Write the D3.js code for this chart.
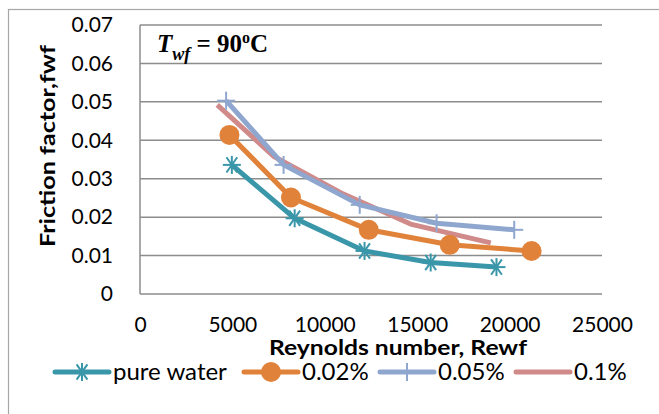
<!DOCTYPE html>
<html>
<head>
<meta charset="utf-8">
<script src="https://cdn.jsdelivr.net/npm/d3@7"></script>
<style>
  body { margin: 0; background: #fff; overflow: hidden; }
  svg { display: block; }
  text { font-family: Lato, "Open Sans", sans-serif; fill: #000; }
</style>
</head>
<body>
<div id="container"></div>
<script>

var width = 659, height = 414;

var margin = {top: 25, right: 57, bottom: 120, left: 140};

// data (Reynolds number vs friction factor)
var seriesNames = ["pure water", "0.02%", "0.05%", "0.1%"];

var reWater = [4970, 8370, 12150, 15730, 19290];
var fWater  = [0.0336, 0.0197, 0.0112, 0.0082, 0.0070];

var re002 = [4840, 8170, 12380, 16760, 21190];
var f002  = [0.0414, 0.0251, 0.0167, 0.0128, 0.0112];

var re005 = [4660, 7770, 11890, 16050, 20250];
var f005  = [0.0503, 0.0336, 0.0232, 0.0184, 0.0167];

var re01 = [4180, 7270, 11010, 14640, 18980];
var f01  = [0.0492, 0.0357, 0.0260, 0.0182, 0.0133];

var xTicks = [0, 5000, 10000, 15000, 20000, 25000];
var yTicks = [0, 0.01, 0.02, 0.03, 0.04, 0.05, 0.06, 0.07];

var colors = ["#3a96a9", "#e0823a", "#8fa7cf", "#d08a8a"];
var markers = ["star", "circle", "plus", "none"];

var series = [
    {name: seriesNames[0], x: reWater, y: fWater},
    {name: seriesNames[1], x: re002, y: f002},
    {name: seriesNames[2], x: re005, y: f005},
    {name: seriesNames[3], x: re01, y: f01}
];

var plotW = width - margin.left - margin.right;
var plotH = height - margin.top - margin.bottom;

var x = d3.scaleLinear().domain([0, 25000]).range([0, plotW]);
var y = d3.scaleLinear().domain([0, 0.07]).range([plotH, 0]);

var svg = d3.select("#container")
    .append("svg")
    .attr("width", width)
    .attr("height", height);

// chart frame (only top and left edges fall inside the picture)
svg.append("rect")
    .attr("x", 8.5)
    .attr("y", 9.5)
    .attr("width", 700)
    .attr("height", 450)
    .attr("fill", "none")
    .attr("stroke", "#a6a6a6")
    .attr("stroke-width", 1.2);

var g = svg.append("g")
    .attr("transform", "translate(" + margin.left + "," + margin.top + ")");

// gridlines
g.selectAll(".grid")
    .data(yTicks)
    .enter()
    .append("line")
    .attr("class", "grid")
    .attr("x1", 0)
    .attr("x2", plotW)
    .attr("y1", function(d) { return y(d); })
    .attr("y2", function(d) { return y(d); })
    .attr("stroke", "#8c8c8c")
    .attr("stroke-width", 1.5);

// left axis line
g.append("line")
    .attr("x1", 0).attr("x2", 0)
    .attr("y1", 0).attr("y2", plotH)
    .attr("stroke", "#8c8c8c")
    .attr("stroke-width", 1.5);

// y axis
g.append("g")
    .attr("class", "axis-left")
    .call(d3.axisLeft(y).tickValues(yTicks).tickSize(0).tickPadding(27)
        .tickFormat(function(d) { return d === 0 ? "0" : d3.format(".2f")(d); }))
    .call(function(a) { a.select(".domain").remove(); })
    .selectAll("text")
    .style("font-size", "21px")
    .style("font-family", "Lato, sans-serif");

// x axis
g.append("g")
    .attr("class", "axis-bottom")
    .attr("transform", "translate(0," + plotH + ")")
    .call(d3.axisBottom(x).tickValues(xTicks).tickSize(0).tickPadding(23)
        .tickFormat(d3.format("d")))
    .call(function(a) { a.select(".domain").remove(); })
    .selectAll("text")
    .style("font-size", "21px")
    .style("font-family", "Lato, sans-serif");

// axis titles
svg.append("text")
    .attr("x", 398)
    .attr("y", 355)
    .attr("text-anchor", "middle")
    .attr("textLength", 258)
    .attr("lengthAdjust", "spacingAndGlyphs")
    .style("font-size", "21px")
    .style("font-weight", "bold")
    .text("Reynolds number, Rewf");

svg.append("text")
    .attr("transform", "translate(55,146) rotate(-90)")
    .attr("text-anchor", "middle")
    .attr("textLength", 202)
    .attr("lengthAdjust", "spacingAndGlyphs")
    .style("font-size", "21px")
    .style("font-weight", "bold")
    .text("Friction factor,fwf");

// annotation
var ann = svg.append("text")
    .attr("x", 157)
    .attr("y", 52)
    .style("font-family", "'Liberation Serif', 'DejaVu Serif', serif")
    .style("font-size", "25px")
    .style("font-weight", "bold");
ann.append("tspan").style("font-style", "italic").text("T");
ann.append("tspan").style("font-style", "italic").style("font-size", "18px").attr("dy", 8).text("wf");
ann.append("tspan").attr("dy", -8).text(" = 90");
ann.append("tspan").style("font-size", "16px").attr("dy", -9).text("o");
ann.append("tspan").attr("dy", 9).text("C");

var line = d3.line()
    .x(function(d) { return x(d[0]); })
    .y(function(d) { return y(d[1]); });

function drawMarker(sel, type, color) {
    if (type === "circle") {
        sel.append("circle").attr("r", 10).attr("fill", color);
    } else if (type === "star") {
        var s = 9;
        [[-s, 0, s, 0], [-s * 0.6, -s * 0.85, s * 0.6, s * 0.85], [-s * 0.6, s * 0.85, s * 0.6, -s * 0.85], [0, -s, 0, s]]
            .forEach(function(l) {
                sel.append("line")
                    .attr("x1", l[0]).attr("y1", l[1]).attr("x2", l[2]).attr("y2", l[3])
                    .attr("stroke", color).attr("stroke-width", 2);
            });
    } else if (type === "plus") {
        var p = 9;
        sel.append("line").attr("x1", -p).attr("x2", p).attr("y1", 0).attr("y2", 0)
            .attr("stroke", color).attr("stroke-width", 2);
        sel.append("line").attr("x1", 0).attr("x2", 0).attr("y1", -p).attr("y2", p)
            .attr("stroke", color).attr("stroke-width", 2);
    }
}

// draw series back to front so teal ends on top
var drawOrder = [3, 2, 1, 0];

drawOrder.forEach(function(i) {
    var s = series[i];
    var pts = s.x.map(function(v, j) { return [v, s.y[j]]; });

    g.append("path")
        .datum(pts)
        .attr("d", line)
        .attr("fill", "none")
        .attr("stroke", colors[i])
        .attr("stroke-width", 5)
        .attr("stroke-linejoin", "round");

    pts.forEach(function(p) {
        var m = g.append("g")
            .attr("transform", "translate(" + x(p[0]) + "," + y(p[1]) + ")");
        drawMarker(m, markers[i], colors[i]);
    });
});

// legend
var legendX = [55, 244, 380, 516];
var legendY = 372;

series.forEach(function(s, i) {
    var lg = svg.append("g").attr("transform", "translate(" + legendX[i] + "," + legendY + ")");
    lg.append("line")
        .attr("x1", 0).attr("x2", 54)
        .attr("y1", 0).attr("y2", 0)
        .attr("stroke", colors[i])
        .attr("stroke-width", 5)
        .attr("stroke-linecap", "round");
    var m = lg.append("g").attr("transform", "translate(27,0)");
    drawMarker(m, markers[i], colors[i]);
    lg.append("text")
        .attr("x", 58)
        .attr("y", 0)
        .attr("dy", "0.35em")
        .style("font-size", "24px")
        .text(s.name);
});

</script>
</body>
</html>
